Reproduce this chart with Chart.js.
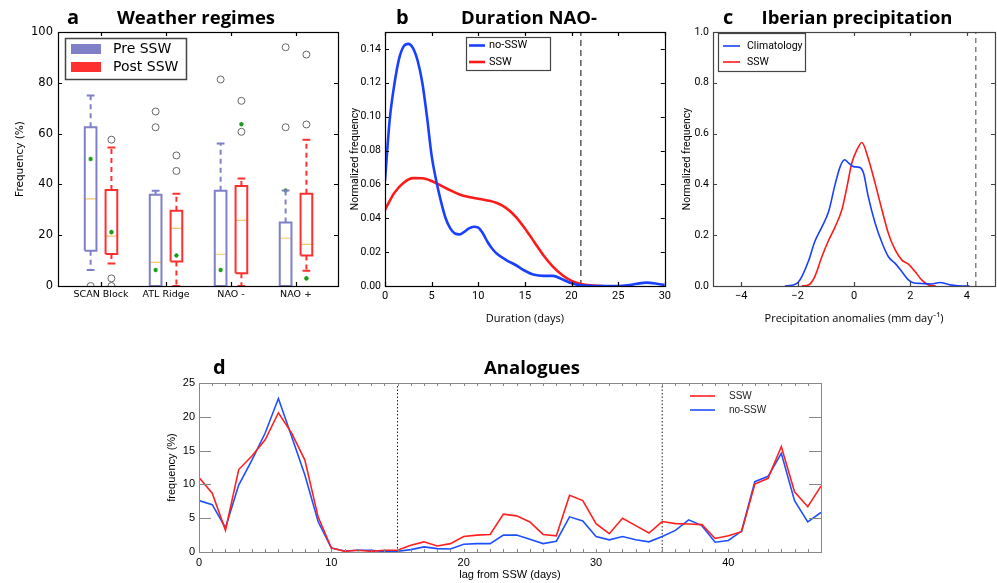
<!DOCTYPE html>
<html>
<head>
<meta charset="utf-8">
<script src="https://cdn.jsdelivr.net/npm/chart.js@4"></script>
<style>
  html, body { margin: 0; padding: 0; background: #fff; }
  body { width: 997px; height: 583px; position: relative; overflow: hidden; }
  canvas { position: absolute; }
</style>
</head>
<body>
<canvas id="chartA" width="345" height="310" style="left:0;top:0"></canvas>
<canvas id="chartB" width="330" height="330" style="left:345px;top:0"></canvas>
<canvas id="chartC" width="322" height="330" style="left:675px;top:0"></canvas>
<canvas id="chartD" width="690" height="233" style="left:150px;top:350px"></canvas>
<script>
// panel a: weather regime frequency (%) box statistics
const regimes = ['SCAN Block', 'ATL Ridge', 'NAO -', 'NAO +'];
const preLow = [6.3, 0, 0, 0];
const preQ1 = [13.9, 0, 0, 0];
const preMedian = [34.3, 9.3, 12.5, 18.8];
const preQ3 = [62.5, 35.9, 37.5, 25.0];
const preHigh = [75.0, 37.5, 56.1, 37.6];
const preMean = [50.0, 6.3, 6.3, 37.6];
const preOutliers = [[0], [68.7, 62.5], [81.3], [94.0, 62.5]];
const postLow = [8.9, 0, 0, 6.0];
const postQ1 = [12.6, 9.6, 5.0, 12.0];
const postMedian = [19.6, 22.7, 25.8, 16.4];
const postQ3 = [37.8, 29.6, 39.4, 36.3];
const postHigh = [54.5, 36.3, 42.3, 57.6];
const postMean = [21.2, 12.0, 63.7, 3.0];
const postOutliers = [[57.6, 3.0, 0], [51.4, 45.3], [72.9, 60.7], [91.1, 63.6]];
const freqTicks = [0, 20, 40, 60, 80, 100];

// panel b: duration of NAO- episodes
const durDaysNoSSW = [0, 0.5, 1, 1.5, 2, 2.5, 3, 3.5, 4, 4.5, 5, 5.5, 6, 6.5, 7, 7.5, 8, 8.5, 9, 9.5, 10, 10.5, 11, 11.5, 12, 13, 14, 15, 16, 17, 18, 19, 20, 21, 22, 23, 24, 25, 26, 27, 28, 29, 30];
const durNoSSW = [0.062, 0.098, 0.119, 0.134, 0.1415, 0.143, 0.1405, 0.133, 0.12, 0.10, 0.077, 0.062, 0.05, 0.040, 0.034, 0.031, 0.0305, 0.032, 0.034, 0.035, 0.0345, 0.031, 0.026, 0.022, 0.019, 0.0153, 0.0124, 0.009, 0.0066, 0.006, 0.006, 0.004, 0.0016, 0.0004, 0.0001, 0, 0, 0, 0.0004, 0.0013, 0.002, 0.0015, 0.0005];
const durDaysSSW = [0, 1, 2, 3, 4, 5, 6, 7, 8, 9, 10, 11, 12, 13, 14, 15, 16, 17, 18, 19, 20, 21, 22, 23, 23.5];
const durSSW = [0.045, 0.055, 0.061, 0.0637, 0.0636, 0.062, 0.0593, 0.0565, 0.054, 0.0525, 0.0515, 0.0505, 0.049, 0.046, 0.041, 0.034, 0.026, 0.018, 0.0115, 0.0065, 0.003, 0.0012, 0.0004, 0.0001, 0];
const durThreshold = [21];
const durXTicks = [0, 5, 10, 15, 20, 25, 30];
const durYTicks = [0, 0.02, 0.04, 0.06, 0.08, 0.10, 0.12, 0.14];

// panel c: Iberian precipitation anomalies
const precipClimX = [-2.45, -2.2, -2.0, -1.85, -1.6, -1.4, -1.15, -0.9, -0.67, -0.49, -0.33, -0.2, -0.02, 0.2, 0.34, 0.5, 0.75, 1.0, 1.22, 1.46, 1.7, 1.93, 2.1, 2.4, 2.75, 3.05, 3.35, 3.7, 4.1];
const precipClim = [0, 0.003, 0.012, 0.037, 0.102, 0.172, 0.23, 0.293, 0.40, 0.47, 0.497, 0.485, 0.47, 0.467, 0.444, 0.355, 0.247, 0.168, 0.115, 0.089, 0.056, 0.024, 0.013, 0.01, 0.008, 0.014, 0.006, 0.001, 0];
const precipSSWX = [-1.85, -1.6, -1.39, -1.14, -0.9, -0.67, -0.43, -0.25, -0.08, 0.1, 0.28, 0.51, 0.75, 0.99, 1.22, 1.46, 1.7, 1.93, 2.17, 2.4, 2.64, 2.9];
const precipSSW = [0, 0.005, 0.037, 0.115, 0.18, 0.233, 0.30, 0.39, 0.483, 0.535, 0.565, 0.50, 0.404, 0.30, 0.207, 0.142, 0.102, 0.086, 0.056, 0.024, 0.004, 0];
const precipThreshold = [4.32];
const precipXTicks = [-4, -2, 0, 2, 4];
const precipYTicks = [0, 0.2, 0.4, 0.6, 0.8, 1.0];

// panel d: analogues vs lag
const lags = [0, 1, 2, 3, 4, 5, 6, 7, 8, 9, 10, 11, 12, 13, 14, 15, 16, 17, 18, 19, 20, 21, 22, 23, 24, 25, 26, 27, 28, 29, 30, 31, 32, 33, 34, 35, 36, 37, 38, 39, 40, 41, 42, 43, 44, 45, 46, 47];
const analoguesSSW = [11.0, 8.7, 3.2, 12.2, 14.2, 16.6, 20.6, 17.6, 13.6, 5.2, 0.6, 0.1, 0.25, 0.1, 0.25, 0.25, 1.0, 1.5, 0.9, 1.24, 2.3, 2.5, 2.6, 5.6, 5.35, 4.45, 2.6, 2.4, 8.4, 7.6, 4.2, 2.7, 5.0, 3.9, 2.8, 4.5, 4.2, 4.15, 4.05, 2.0, 2.4, 3.0, 10.05, 10.9, 15.6, 8.9, 6.7, 9.75];
const analoguesNoSSW = [7.6, 7.0, 3.6, 9.9, 13.6, 17.6, 22.7, 17.1, 11.4, 4.5, 0.6, 0.15, 0.25, 0.25, 0.05, 0.1, 0.35, 0.75, 0.5, 0.45, 1.14, 1.24, 1.24, 2.5, 2.5, 1.9, 1.24, 1.6, 5.2, 4.6, 2.3, 1.8, 2.3, 1.8, 1.5, 2.3, 3.2, 4.75, 3.9, 1.45, 1.7, 3.1, 10.4, 11.2, 14.6, 7.6, 4.45, 5.85];
const lagMarkers = [15, 35];
const lagTicks = [0, 10, 20, 30, 40];
const analogueTicks = [0, 5, 10, 15, 20, 25];

const mplFont = "'DejaVu Sans', sans-serif";
const narrowFont = "Roboto, 'DejaVu Sans', sans-serif";
const headFont = "'Open Sans', Lato, sans-serif";
const idlFont = "'Liberation Sans', Arial, sans-serif";

const blue = '#1a40ff', red = '#ff1a1a';
const preColor = '#8080c8', postColor = '#ff3030';

// draws the full box round the plot and inward tick marks on all sides
const frame = {
  id: 'frame',
  afterDatasetsDraw(chart, args, o) {
    const { ctx, chartArea: a, scales: { x, y } } = chart;
    ctx.save();
    ctx.strokeStyle = o.color;
    ctx.lineWidth = o.width;
    ctx.beginPath();
    const tickX = (v, len) => {
      const p = Math.round(x.getPixelForValue(v)) + 0.5;
      ctx.moveTo(p, a.bottom); ctx.lineTo(p, a.bottom - len);
      ctx.moveTo(p, a.top); ctx.lineTo(p, a.top + len);
    };
    x.ticks.forEach(t => tickX(t.value, o.xLen));
    (o.xMinor || []).forEach(v => tickX(v, o.minorLen));
    y.ticks.forEach(t => {
      const p = Math.round(y.getPixelForValue(t.value)) + 0.5;
      ctx.moveTo(a.left, p); ctx.lineTo(a.left + o.yLen, p);
      ctx.moveTo(a.right, p); ctx.lineTo(a.right - o.yLen, p);
    });
    ctx.stroke();
    ctx.strokeRect(Math.round(a.left) + 0.5, Math.round(a.top) + 0.5, Math.round(a.right - a.left), Math.round(a.bottom - a.top));
    ctx.restore();
  }
};

// legend drawn inside the plot area
const innerLegend = {
  id: 'innerLegend',
  afterDraw(chart, args, o) {
    const { ctx, chartArea: a } = chart;
    const bx = Math.round(a.left + o.x), by = Math.round(a.top + o.y);
    ctx.save();
    if (o.border) {
      ctx.fillStyle = '#fff';
      ctx.fillRect(bx, by, o.w, o.h);
      ctx.strokeStyle = o.border;
      ctx.lineWidth = o.borderWidth;
      ctx.strokeRect(bx + 0.5, by + 0.5, o.w, o.h);
    }
    ctx.font = o.font;
    ctx.textBaseline = 'middle';
    ctx.textAlign = 'left';
    o.items.forEach((it, i) => {
      const cy = by + o.first + i * o.gap;
      if (o.rect) {
        ctx.fillStyle = it.color;
        ctx.fillRect(bx + o.symX, cy - o.symH / 2, o.symW, o.symH);
      } else {
        ctx.strokeStyle = it.color;
        ctx.lineWidth = o.lineWidth;
        ctx.beginPath();
        ctx.moveTo(bx + o.symX, cy);
        ctx.lineTo(bx + o.symX + o.symW, cy);
        ctx.stroke();
      }
      ctx.fillStyle = o.textColor || '#000';
      ctx.fillText(it.label, bx + o.textX, cy);
    });
    ctx.restore();
  }
};

// panel letter + bold title
const heading = {
  id: 'heading',
  afterDraw(chart, args, o) {
    const { ctx } = chart;
    ctx.save();
    ctx.fillStyle = '#000';
    ctx.textBaseline = 'alphabetic';
    ctx.font = `bold ${o.letterSize}px ${headFont}`;
    ctx.textAlign = 'left';
    ctx.fillText(o.letter, o.letterX, o.y);
    ctx.font = `bold ${o.size}px ${headFont}`;
    ctx.textAlign = 'center';
    ctx.fillText(o.text, o.textX, o.y);
    ctx.restore();
  }
};

const fixedTicks = list => s => { s.ticks = list.map(v => ({ value: v })); };
const noGrid = { display: false, drawTicks: false };

function baseOptions(pad) {
  return {
    responsive: false,
    animation: false,
    layout: { padding: pad },
    plugins: { legend: { display: false }, tooltip: { enabled: false } }
  };
}

// ---------- panel a ----------
const off = 0.16, hw = 0.09, cw = 0.06;
function boxSets(shift, color, low, q1, med, q3, high, mean, outliers) {
  const boxes = [], whiskers = [], caps = [], medians = [], outs = [], means = [];
  regimes.forEach((_, i) => {
    const x = i + 1 + shift;
    boxes.push({ x: x - hw, y: q1[i] }, { x: x + hw, y: q1[i] }, { x: x + hw, y: q3[i] },
               { x: x - hw, y: q3[i] }, { x: x - hw, y: q1[i] }, { x, y: null });
    whiskers.push({ x, y: q3[i] }, { x, y: high[i] }, { x, y: null },
                  { x, y: q1[i] }, { x, y: low[i] }, { x, y: null });
    caps.push({ x: x - cw, y: high[i] }, { x: x + cw, y: high[i] }, { x, y: null },
              { x: x - cw, y: low[i] }, { x: x + cw, y: low[i] }, { x, y: null });
    medians.push({ x: x - hw, y: med[i] }, { x: x + hw, y: med[i] }, { x, y: null });
    outliers[i].forEach(v => outs.push({ x, y: v }));
    means.push({ x, y: mean[i] });
  });
  const line = { showLine: true, pointRadius: 0, borderWidth: 2, borderColor: color };
  return [
    { ...line, data: whiskers, borderDash: [5, 4] },
    { ...line, data: caps },
    { ...line, data: boxes },
    { ...line, data: medians, borderColor: '#fcc468', borderWidth: 1.2 },
    { data: outs, pointRadius: 3.5, pointBorderColor: '#666', pointBackgroundColor: 'rgba(0,0,0,0)', pointBorderWidth: 1 },
    { data: means, pointStyle: 'star', pointRadius: 2.3, pointBorderColor: '#1a9e1a', pointBorderWidth: 1.2 }
  ];
}

new Chart(document.getElementById('chartA'), {
  type: 'scatter',
  data: {
    datasets: [
      ...boxSets(-off, preColor, preLow, preQ1, preMedian, preQ3, preHigh, preMean, preOutliers),
      ...boxSets(off, postColor, postLow, postQ1, postMedian, postQ3, postHigh, postMean, postOutliers)
    ]
  },
  options: {
    ...baseOptions({ top: 32, right: 7, left: 0, bottom: 0 }),
    scales: {
      x: {
        type: 'linear', min: 0.338, max: 4.646,
        afterBuildTicks: fixedTicks([1, 2, 3, 4]),
        afterFit: s => { s.height = 24; },
        grid: noGrid, border: { display: false },
        ticks: { padding: 3, color: '#000', font: { family: mplFont, size: 9.5 }, maxRotation: 0, callback: v => regimes[v - 1] }
      },
      y: {
        min: 0, max: 100,
        afterBuildTicks: fixedTicks(freqTicks),
        afterFit: s => { s.width = 58; },
        grid: noGrid, border: { display: false },
        ticks: { padding: 5, color: '#000', font: { family: mplFont, size: 11.5 } },
        title: { display: true, text: 'Frequency (%)', color: '#000', font: { family: mplFont, size: 10.5 }, padding: { top: 14, bottom: 0 } }
      }
    },
    plugins: {
      legend: { display: false }, tooltip: { enabled: false },
      frame: { color: '#000', width: 1.2, xLen: 4, yLen: 4 },
      innerLegend: {
        x: 7, y: 6, w: 121, h: 41, border: '#444', borderWidth: 1.5, rect: true,
        symX: 6, symW: 30, symH: 10, textX: 48, first: 11, gap: 18,
        font: `14px ${mplFont}`,
        items: [{ label: 'Pre SSW', color: preColor }, { label: 'Post SSW', color: postColor }]
      },
      heading: { letter: 'a', letterX: 67, text: 'Weather regimes', textX: 196, y: 24, size: 18.5, letterSize: 20 }
    }
  },
  plugins: [frame, innerLegend, heading]
});

// ---------- panel b ----------
const pts = (xs, ys) => xs.map((x, i) => ({ x, y: ys[i] }));
new Chart(document.getElementById('chartB'), {
  type: 'scatter',
  data: {
    datasets: [
      { data: pts(durDaysNoSSW, durNoSSW), showLine: true, pointRadius: 0, borderColor: blue, borderWidth: 2.6, cubicInterpolationMode: 'monotone' },
      { data: pts(durDaysSSW, durSSW), showLine: true, pointRadius: 0, borderColor: red, borderWidth: 2.6, cubicInterpolationMode: 'monotone' },
      { data: [{ x: durThreshold[0], y: 0 }, { x: durThreshold[0], y: 0.15 }], showLine: true, pointRadius: 0, borderColor: '#333', borderWidth: 1.2, borderDash: [6, 4] }
    ]
  },
  options: {
    ...baseOptions({ top: 32, right: 8, left: 0, bottom: 0 }),
    scales: {
      x: {
        type: 'linear', min: 0, max: 30,
        afterBuildTicks: fixedTicks(durXTicks),
        afterFit: s => { s.height = 44; },
        grid: noGrid, border: { display: false },
        ticks: { padding: 4, color: '#000', font: { family: narrowFont, size: 11 }, maxRotation: 0 },
        title: { display: true, text: 'Duration (days)', color: '#000', font: { family: headFont, size: 11 }, padding: { top: 0, bottom: 5 } }
      },
      y: {
        min: 0, max: 0.15,
        afterBuildTicks: fixedTicks(durYTicks),
        afterFit: s => { s.width = 40; },
        grid: noGrid, border: { display: false },
        ticks: { padding: 4, color: '#000', font: { family: narrowFont, size: 10.5 }, callback: v => v.toFixed(2) },
        title: { display: true, text: 'Normalized frequency', color: '#000', font: { family: narrowFont, size: 10.5 }, padding: { top: 4, bottom: 0 } }
      }
    },
    plugins: {
      legend: { display: false }, tooltip: { enabled: false },
      frame: { color: '#000', width: 1.2, xLen: 4, yLen: 4 },
      innerLegend: {
        x: 81, y: 5, w: 84, h: 33, border: '#444', borderWidth: 1.2,
        symX: 3, symW: 16, lineWidth: 2.6, textX: 23, first: 8.5, gap: 16.5,
        font: `11px ${narrowFont}`,
        items: [{ label: 'no-SSW', color: blue }, { label: 'SSW', color: red }]
      },
      heading: { letter: 'b', letterX: 51, text: 'Duration NAO-', textX: 184, y: 24, size: 18.5, letterSize: 20 }
    }
  },
  plugins: [frame, innerLegend, heading]
});

// ---------- panel c ----------
new Chart(document.getElementById('chartC'), {
  type: 'scatter',
  data: {
    datasets: [
      { data: pts(precipClimX, precipClim), showLine: true, pointRadius: 0, borderColor: blue, borderWidth: 1.6, cubicInterpolationMode: 'monotone' },
      { data: pts(precipSSWX, precipSSW), showLine: true, pointRadius: 0, borderColor: red, borderWidth: 1.6, cubicInterpolationMode: 'monotone' },
      { data: [{ x: precipThreshold[0], y: 0 }, { x: precipThreshold[0], y: 1 }], showLine: true, pointRadius: 0, borderColor: '#555', borderWidth: 1.1, borderDash: [5, 4] }
    ]
  },
  options: {
    ...baseOptions({ top: 32, right: 2, left: 0, bottom: 0 }),
    scales: {
      x: {
        type: 'linear', min: -5, max: 5,
        afterBuildTicks: fixedTicks(precipXTicks),
        afterFit: s => { s.height = 44; },
        grid: noGrid, border: { display: false },
        ticks: { padding: 4, color: '#000', font: { family: narrowFont, size: 11 }, maxRotation: 0, callback: v => (v < 0 ? '\u2212' + Math.abs(v) : String(v)) },
        title: { display: true, text: 'Precipitation anomalies (mm day\u207B\u00B9)', color: '#000', font: { family: headFont, size: 11 }, padding: { top: 0, bottom: 5 } }
      },
      y: {
        min: 0, max: 1,
        afterBuildTicks: fixedTicks(precipYTicks),
        afterFit: s => { s.width = 38; },
        grid: noGrid, border: { display: false },
        ticks: { padding: 4, color: '#000', font: { family: narrowFont, size: 10.5 }, callback: v => v.toFixed(1) },
        title: { display: true, text: 'Normalized frequency', color: '#000', font: { family: narrowFont, size: 10.5 }, padding: { top: 6, bottom: 0 } }
      }
    },
    plugins: {
      legend: { display: false }, tooltip: { enabled: false },
      frame: { color: '#444', width: 1.2, xLen: 4, yLen: 4 },
      innerLegend: {
        x: 5, y: 1, w: 87, h: 38, border: '#444', borderWidth: 1.2,
        symX: 5, symW: 17, lineWidth: 1.6, textX: 29, first: 13, gap: 16,
        font: `10.5px ${narrowFont}`,
        items: [{ label: 'Climatology', color: blue }, { label: 'SSW', color: red }]
      },
      heading: { letter: 'c', letterX: 48, text: 'Iberian precipitation', textX: 182, y: 24, size: 18.5, letterSize: 20 }
    }
  },
  plugins: [frame, innerLegend, heading]
});

// ---------- panel d ----------
new Chart(document.getElementById('chartD'), {
  type: 'scatter',
  data: {
    datasets: [
      { data: pts(lags, analoguesSSW), showLine: true, pointRadius: 0, borderColor: '#ff2020', borderWidth: 1.6 },
      { data: pts(lags, analoguesNoSSW), showLine: true, pointRadius: 0, borderColor: '#1f50ff', borderWidth: 1.6 },
      ...lagMarkers.map(m => ({ data: [{ x: m, y: 0 }, { x: m, y: 25 }], showLine: true, pointRadius: 0, borderColor: '#222', borderWidth: 1, borderDash: [1.5, 2] }))
    ]
  },
  options: {
    ...baseOptions({ top: 33, right: 19, left: 0, bottom: 0 }),
    scales: {
      x: {
        type: 'linear', min: 0, max: 47,
        afterBuildTicks: fixedTicks(lagTicks),
        afterFit: s => { s.height = 31; },
        grid: noGrid, border: { display: false },
        ticks: { padding: 4, color: '#000', font: { family: idlFont, size: 11 }, maxRotation: 0 },
        title: { display: true, text: 'lag from SSW (days)', color: '#000', font: { family: idlFont, size: 11 }, padding: { top: 0, bottom: 1 } }
      },
      y: {
        min: 0, max: 25,
        afterBuildTicks: fixedTicks(analogueTicks),
        afterFit: s => { s.width = 49; },
        grid: noGrid, border: { display: false },
        ticks: { padding: 4, color: '#000', font: { family: idlFont, size: 11 } },
        title: { display: true, text: 'frequency (%)', color: '#000', font: { family: idlFont, size: 11 }, padding: { top: 15, bottom: 0 } }
      }
    },
    plugins: {
      legend: { display: false }, tooltip: { enabled: false },
      frame: { color: '#888', width: 1, xLen: 3, yLen: 12, xMinor: lags, minorLen: 3 },
      innerLegend: {
        x: 0, y: 0, border: null, symX: 491, symW: 25, lineWidth: 1.6, textX: 530, first: 13, gap: 14,
        font: `10px ${idlFont}`, textColor: '#222',
        items: [{ label: 'SSW', color: '#ff2020' }, { label: 'no-SSW', color: '#1f50ff' }]
      },
      heading: { letter: 'd', letterX: 63, text: 'Analogues', textX: 382, y: 24, size: 18.5, letterSize: 20 }
    }
  },
  plugins: [frame, innerLegend, heading]
});
</script>
</body>
</html>
